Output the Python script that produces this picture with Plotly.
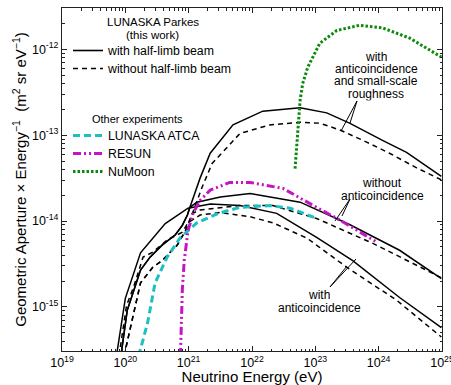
import numpy as np
import plotly.graph_objects as go

# ---- Data (log10 of neutrino energy in eV, log10 of aperture/energy in m^2 sr eV^-1) ----
# LUNASKA Parkes, "with anticoincidence"
anti_solid_logE = [19.86, 20.00, 20.24, 20.63, 20.99, 21.34, 21.81, 22.39, 23.02, 23.59, 24.33, 24.99]
anti_solid_logA = [-15.57, -14.90, -14.37, -14.03, -13.85, -13.80, -13.82, -13.91, -14.19, -14.46, -14.89, -15.24]
anti_dash_logE = [19.90, 20.02, 20.13, 20.28, 20.44, 20.66, 20.90, 20.99, 21.18, 21.50, 21.97, 22.33, 22.87, 23.50, 24.28, 24.91, 24.99]
anti_dash_logA = [-15.57, -14.98, -14.77, -14.42, -14.36, -14.22, -14.13, -14.02, -13.93, -13.90, -13.95, -14.02, -14.20, -14.54, -14.92, -15.31, -15.35]

# LUNASKA Parkes, "without anticoincidence"
noanti_solid_logE = [19.93, 20.03, 20.24, 20.39, 20.58, 20.79, 20.90, 20.98, 21.02, 21.13, 21.50, 21.97, 22.76, 23.54, 24.33, 24.99]
noanti_solid_logA = [-15.57, -15.04, -14.57, -14.42, -14.28, -14.16, -14.05, -13.93, -13.84, -13.78, -13.72, -13.68, -13.78, -14.04, -14.34, -14.67]
noanti_dash_logE = [19.98, 20.24, 20.43, 20.58, 20.82, 20.95, 21.06, 21.18, 21.81, 22.33, 23.02, 23.91, 24.91, 24.99]
noanti_dash_logA = [-15.57, -14.72, -14.54, -14.46, -14.28, -14.11, -13.91, -13.87, -13.82, -13.82, -13.97, -14.26, -14.63, -14.66]

# LUNASKA Parkes, "with anticoincidence and small-scale roughness"
rough_solid_logE = [19.93, 20.03, 20.24, 20.39, 20.58, 20.79, 20.90, 20.98, 21.02, 21.18, 21.34, 21.70, 22.17, 22.76, 23.18, 23.54, 24.06, 24.44, 24.99]
rough_solid_logA = [-15.57, -15.04, -14.57, -14.42, -14.28, -14.16, -14.05, -13.93, -13.84, -13.50, -13.21, -12.88, -12.72, -12.68, -12.74, -12.86, -13.06, -13.20, -13.48]
rough_dash_logE = [19.98, 20.24, 20.43, 20.58, 20.82, 20.95, 21.06, 21.21, 21.37, 21.81, 22.28, 22.76, 23.07, 23.39, 23.81, 24.17, 24.60, 24.99]
rough_dash_logA = [-15.57, -14.72, -14.54, -14.46, -14.28, -14.11, -13.91, -13.61, -13.33, -12.98, -12.88, -12.85, -12.86, -12.94, -13.08, -13.21, -13.38, -13.52]

# Other experiments
atca_logE = [20.21, 20.35, 20.47, 20.66, 20.87, 21.13, 21.47, 21.81, 22.28, 22.60, 22.99]
atca_logA = [-15.57, -15.19, -14.72, -14.42, -14.19, -14.02, -13.91, -13.84, -13.82, -13.85, -13.96]
resun_logE = [20.87, 20.88, 20.90, 20.93, 20.99, 21.07, 21.18, 21.34, 21.65, 21.97, 22.49, 23.02, 23.39, 23.98]
resun_logA = [-15.57, -15.15, -14.80, -14.46, -14.11, -13.91, -13.76, -13.64, -13.55, -13.55, -13.62, -13.84, -13.99, -14.25]
numoon_logE = [22.68, 22.76, 22.80, 22.88, 23.07, 23.34, 23.70, 24.06, 24.49, 24.96, 24.99]
numoon_logA = [-13.39, -12.59, -12.40, -12.21, -11.93, -11.78, -11.72, -11.75, -11.87, -12.07, -12.09]

x_tick_exps = [19, 20, 21, 22, 23, 24, 25]
y_tick_exps = [-15, -14, -13, -12]

FONT = "Liberation Sans, Arial, Helvetica, sans-serif"
BLACK_DASH = "5px,4px"


def p(v):
    return 10.0 ** np.array(v, dtype=float)


fig = go.Figure()

black_w = 1.5
curves = [
    (anti_solid_logE, anti_solid_logA, "solid"),
    (anti_dash_logE, anti_dash_logA, BLACK_DASH),
    (noanti_solid_logE, noanti_solid_logA, "solid"),
    (noanti_dash_logE, noanti_dash_logA, BLACK_DASH),
    (rough_solid_logE, rough_solid_logA, "solid"),
    (rough_dash_logE, rough_dash_logA, BLACK_DASH),
]
for xe, ya, dash in curves:
    fig.add_trace(go.Scatter(x=p(xe), y=p(ya), mode="lines",
                             line=dict(color="black", width=black_w, dash=dash),
                             showlegend=False, hoverinfo="skip"))

# Legend-only entries for the Parkes line styles
fig.add_trace(go.Scatter(x=[None], y=[None], mode="lines", name="with half-limb beam",
                         line=dict(color="black", width=1.6, dash="solid"), legend="legend"))
fig.add_trace(go.Scatter(x=[None], y=[None], mode="lines", name="without half-limb beam",
                         line=dict(color="black", width=1.6, dash=BLACK_DASH), legend="legend2"))

fig.add_trace(go.Scatter(x=p(atca_logE), y=p(atca_logA), mode="lines", name="LUNASKA ATCA",
                         line=dict(color="#1cc0c0", width=3, dash="7px,4px"), legend="legend3"))
fig.add_trace(go.Scatter(x=p(resun_logE), y=p(resun_logA), mode="lines", name="RESUN",
                         line=dict(color="#c414c4", width=3, dash="8px,3px,2px,3px,2px,3px"), legend="legend4"))
fig.add_trace(go.Scatter(x=p(numoon_logE), y=p(numoon_logA), mode="lines", name="NuMoon",
                         line=dict(color="#0a8a0a", width=3, dash="2.5px,2px"), legend="legend5"))

# plot-area pixel geometry (for annotation placement)
L, R, T, B = 62, 442, 8, 351


def px(xp):
    return (xp - L) / (R - L)


def py(yp):
    return (B - yp) / (B - T)


ann_font = dict(family=FONT, size=12, color="black")
labels = [
    ("with", 376, 57), ("anticoincidence", 376, 69.5), ("and small-scale", 376, 82), ("roughness", 376, 94.5),
    ("without", 382, 183), ("anticoincidence", 382, 196),
    ("with", 319, 295), ("anticoincidence", 319, 308),
]
annotations = [dict(text=t, x=px(xx), y=py(yy), xref="paper", yref="paper", showarrow=False,
                    xanchor="center", yanchor="middle", height=12.5, font=ann_font)
               for t, xx, yy in labels]

# legend headings
legend_titles = [("LUNASKA Parkes", 153, 22, 11.5), ("(this work)", 152, 35, 11.5),
                 ("Other experiments", 137, 119, 11)]
annotations += [dict(text=t, x=px(xx), y=py(yy), xref="paper", yref="paper", showarrow=False,
                     xanchor="center", yanchor="middle", height=12.5,
                     font=dict(family=FONT, size=fs, color="black"))
                for t, xx, yy, fs in legend_titles]

pointers = [
    ((357, 101), (350, 123)), ((357, 101), (341, 131)),
    ((350, 199), (342, 216)), ((350, 199), (335, 221)),
    ((330, 287), (347, 266)), ((330, 287), (356, 259)),
]
shapes = [dict(type="line", xref="paper", yref="paper", x0=px(a[0]), y0=py(a[1]), x1=px(b[0]), y1=py(b[1]),
               line=dict(color="black", width=1)) for a, b in pointers]

minor_x = [float(k) * 10.0 ** n for n in range(19, 25) for k in range(2, 10)]
minor_y = [float(k) * 10.0 ** n for n in range(-16, -11) for k in range(2, 10)]

axis_common = dict(type="log", showline=True, linecolor="#222", linewidth=1, mirror="allticks",
                   ticks="inside", ticklen=5, tickwidth=1, tickcolor="#222", showgrid=False,
                   zeroline=False, automargin=False, ticklabeloverflow="allow",
                   tickfont=dict(family=FONT, size=12.5, color="black"))


def legend_at(center_y):
    return dict(x=px(68), y=py(center_y - 13), xanchor="left", yanchor="top",
                bgcolor="rgba(0,0,0,0)", font=dict(family=FONT, size=12.3))


fig.update_layout(
    width=451, height=385,
    margin=dict(l=L, r=451 - R, t=T, b=385 - B, autoexpand=False),
    paper_bgcolor="white", plot_bgcolor="white",
    font=dict(family=FONT, color="black"),
    xaxis=dict(**axis_common, range=[19, 25],
               tickmode="array", tickvals=[10.0 ** e for e in x_tick_exps],
               ticktext=[f"10<sup>{e}</sup>" for e in x_tick_exps],
               minor=dict(tickmode="array", tickvals=minor_x, ticks="inside", ticklen=2.5,
                          tickcolor="#222", showgrid=False),
               title=dict(text="Neutrino Energy (eV)", font=dict(family=FONT, size=15), standoff=2)),
    yaxis=dict(**axis_common, range=[-15.513, -11.519],
               tickmode="array", tickvals=[10.0 ** e for e in y_tick_exps],
               ticktext=[f"10<sup>{e}</sup>" for e in y_tick_exps],
               minor=dict(tickmode="array", tickvals=minor_y, ticks="inside", ticklen=2.5,
                          tickcolor="#222", showgrid=False),
               title=dict(text="Geometric Aperture × Energy<sup>−1</sup>  (m<sup>2</sup> sr eV<sup>−1</sup>)",
                          font=dict(family=FONT, size=15), standoff=1)),
    legend=legend_at(49),
    legend2=legend_at(67),
    legend3=legend_at(134),
    legend4=legend_at(152),
    legend5=legend_at(170),
    annotations=annotations,
    shapes=shapes,
)

fig.write_html("out.html", config={"displayModeBar": False},
               post_script="document.body.style.margin='0';")
